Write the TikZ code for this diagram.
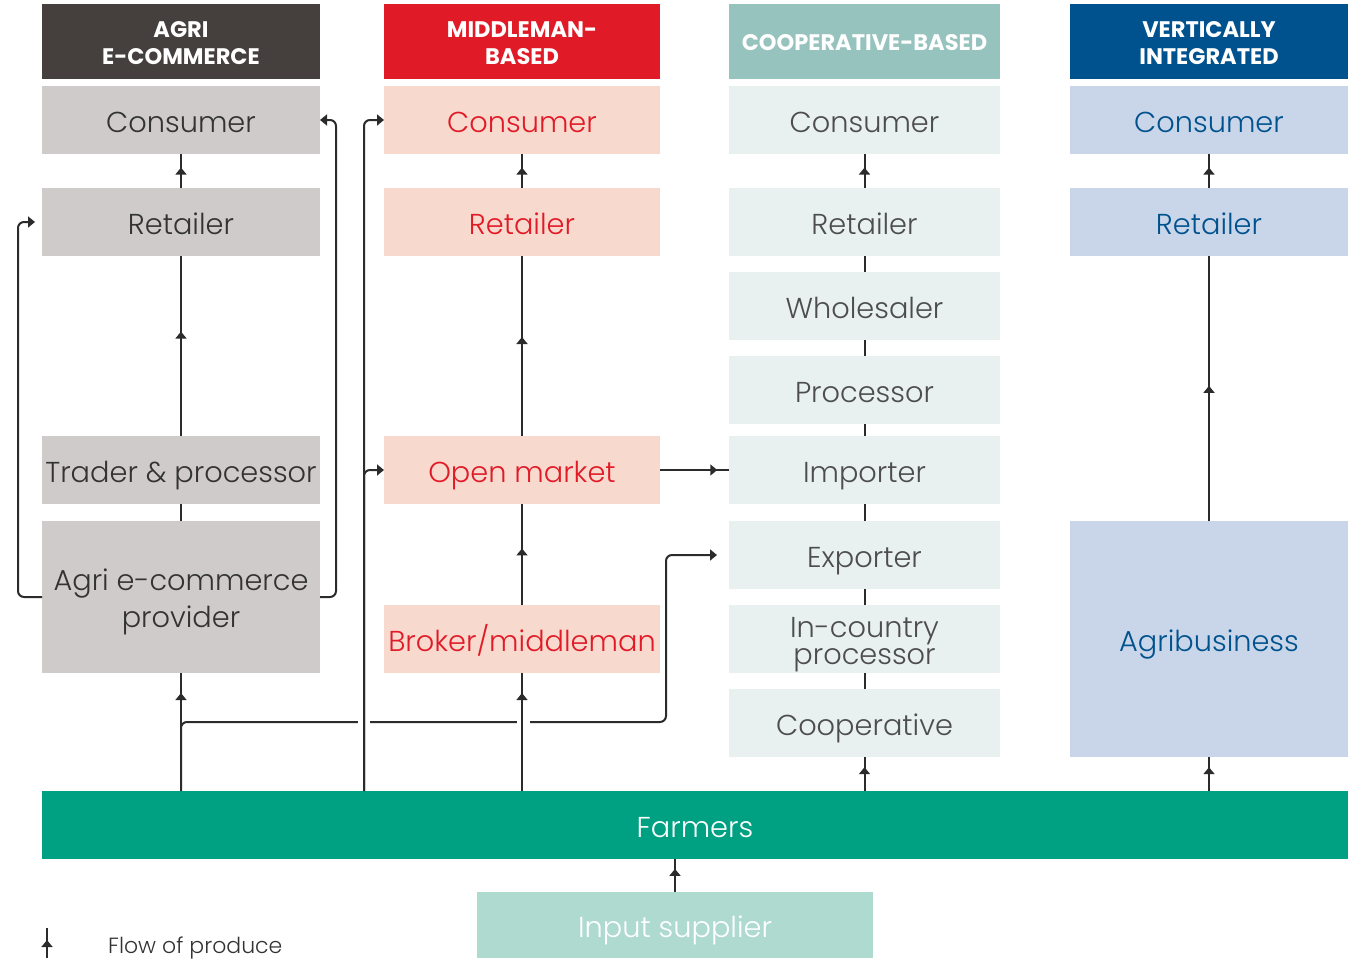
\documentclass[tikz,border=0pt]{standalone}
\usepackage{fontspec}
\setmainfont{Poppins}[UprightFont=*-Light, BoldFont=*-Bold]
\usetikzlibrary{arrows.meta,decorations.markings}

\definecolor{hdA}{HTML}{45403D}\definecolor{bxA}{HTML}{CFCBCA}\definecolor{txA}{HTML}{333333}
\definecolor{hdB}{HTML}{E11A27}\definecolor{bxB}{HTML}{F8D9CE}\definecolor{txB}{HTML}{E11A27}
\definecolor{hdC}{HTML}{96C3BE}\definecolor{bxC}{HTML}{E8F1EF}\definecolor{txC}{HTML}{4D4D4D}
\definecolor{hdD}{HTML}{00528E}\definecolor{bxD}{HTML}{C9D5E8}\definecolor{txD}{HTML}{00528E}
\definecolor{farm}{HTML}{00A182}\definecolor{inpt}{HTML}{AEDACF}
\definecolor{ln}{HTML}{2B2B2B}

\newcommand\bodyfs{\fontsize{28.8}{37}\selectfont}
\newcommand\headfs{\fontsize{22.5}{27}\selectfont\bfseries}

\tikzset{
  box/.style={inner sep=0pt, outer sep=0pt, align=center, font=\bodyfs,
    minimum height=68pt, text height=24pt, text depth=0pt},
  multi/.style={text height={}, text depth={}},
  head/.style={box, multi, font=\headfs, text=white, minimum height=75pt},
  colA/.style={box, fill=bxA, text=txA, minimum width=278pt},
  colB/.style={box, fill=bxB, text=txB, minimum width=276pt},
  colC/.style={box, fill=bxC, text=txC, minimum width=271pt},
  colD/.style={box, fill=bxD, text=txD, minimum width=278pt},
  link/.style={draw=ln, line width=2pt},
  flow/.style={link, postaction={decorate},
    decoration={markings, mark=at position #1 with {\arrow{Triangle[length=7pt,width=11pt]}}}},
  flow/.default=0.6,
  tip/.style={link, rounded corners=6pt, -{Triangle[length=7pt,width=11pt]}}
}

\begin{document}
\begin{tikzpicture}[x=1pt,y=-1pt]
\useasboundingbox (0,0) rectangle (1356,958);

% column headers
\node[head, fill=hdA, minimum width=278pt] (hA) at (181,41.5) {\rule{0pt}{19pt}AGRI\\E-COMMERCE};
\node[head, fill=hdB, minimum width=276pt] (hB) at (522,41.5) {\rule{0pt}{19pt}MIDDLEMAN-\\BASED};
\node[head, fill=hdC, minimum width=271pt, text height=18pt, text depth=0pt] (hC) at (864.5,41.5) {COOPERATIVE-BASED};
\node[head, fill=hdD, minimum width=278pt] (hD) at (1209,41.5) {\rule{0pt}{19pt}VERTICALLY\\INTEGRATED};

% agri e-commerce chain
\node[colA] (aCons) at (181,120) {Consumer};
\node[colA] (aRet)  at (181,222) {Retailer};
\node[colA] (aTrd)  at (181,470) {Trader \& processor};
\node[colA, multi, minimum height=152pt] (aAgr) at (181,597) {\rule{0pt}{31pt}Agri e-commerce\\provider};

% middleman-based chain
\node[colB] (bCons) at (522,120) {Consumer};
\node[colB] (bRet)  at (522,222) {Retailer};
\node[colB] (bOpen) at (522,470) {Open market};
\node[colB] (bBrk)  at (522,639) {Broker/middleman};

% cooperative-based chain
\node[colC] (cCons) at (864.5,120) {Consumer};
\node[colC] (cRet)  at (864.5,222) {Retailer};
\node[colC] (cWhl)  at (864.5,306) {Wholesaler};
\node[colC] (cPro)  at (864.5,390) {Processor};
\node[colC] (cImp)  at (864.5,470) {Importer};
\node[colC] (cExp)  at (864.5,555) {Exporter};
\node[colC, multi, font=\fontsize{28.8}{27}\selectfont] (cIcp) at (864.5,639) {\rule{0pt}{32pt}In-country\\processor};
\node[colC] (cCoop) at (864.5,723) {Cooperative};

% vertically integrated chain
\node[colD] (dCons) at (1209,120) {Consumer};
\node[colD] (dRet)  at (1209,222) {Retailer};
\node[colD, minimum height=236pt] (dAgb) at (1209,639) {Agribusiness};

% base rows
\node[box, fill=farm, text=white, minimum width=1306pt] (farmers) at (695,825) {Farmers};
\node[box, fill=inpt, text=white, minimum width=396pt, minimum height=66pt] (inp) at (675,925) {Input supplier};

% farmers to exporter, passing under the middleman lines
\coordinate (xbend) at (666,722);
\draw[tip] (farmers.north -| aAgr.south) |- (xbend) |- ([xshift=-12pt]cExp.west);
\fill[white] (358,716) rectangle (370,728);
\fill[white] (517,716) rectangle (530,728);

% agri e-commerce flows
\draw[flow=0.6] (aRet) -- (aCons);
\draw[flow=0.58] (aTrd) -- (aRet);
\draw[link] (aAgr) -- (aTrd);
\draw[flow=0.83] (farmers.north -| aAgr.south) -- (aAgr.south);
\draw[tip] (aAgr.west) -- ++(-24,0) |- ([xshift=-7pt]aRet.west);
\draw[tip] (aAgr.east) -- ++(16,0) |- (aCons.east);

% middleman flows
\coordinate (busB) at (364,791);
\draw[tip] (busB) |- (bCons.west);
\draw[tip] (busB) |- (bOpen.west);
\draw[flow=0.6] (bRet) -- (bCons);
\draw[flow=0.55] (bOpen) -- (bRet);
\draw[flow=0.56] (bBrk) -- (bOpen);
\draw[flow=0.83] (farmers.north -| bBrk.south) -- (bBrk.south);
\draw[flow=0.83] (bOpen) -- (cImp);

% cooperative flows
\draw[flow=0.6] (cRet) -- (cCons);
\draw[link] (cWhl) -- (cRet);
\draw[link] (cPro) -- (cWhl);
\draw[link] (cImp) -- (cPro);
\draw[link] (cExp) -- (cImp);
\draw[link] (cIcp) -- (cExp);
\draw[link] (cCoop) -- (cIcp);
\draw[flow=0.7] (farmers.north -| cCoop.south) -- (cCoop.south);

% vertically integrated flows
\draw[flow=0.6] (dRet) -- (dCons);
\draw[flow=0.51] (dAgb) -- (dRet);
\draw[flow=0.7] (farmers.north -| dAgb.south) -- (dAgb.south);

% input supplier
\draw[flow=0.7] (inp.north) -- (farmers.south -| inp.north);

% legend
\coordinate (lgA) at (47,958);
\coordinate (lgB) at (47,928);
\draw[flow=0.6] (lgA) -- (lgB);
\node[anchor=base west, inner sep=0pt, text=txA, font=\fontsize{22}{26}\selectfont] (lgText) at (108,953) {Flow of produce};
\end{tikzpicture}
\end{document}
